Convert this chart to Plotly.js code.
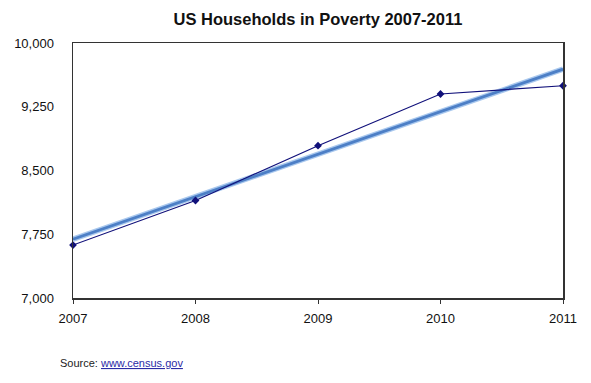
<!DOCTYPE html>
<html><head><meta charset="utf-8">
<script src="https://cdn.plot.ly/plotly-3.0.1.min.js"></script>
<style>html,body{margin:0;padding:0;background:#fff}#c{width:591px;height:383px}</style>
</head><body><div id="c"></div>
<script>
const years = [2007, 2008, 2009, 2010, 2011];
const households = [7623, 8147, 8792, 9400, 9497];
const yTicks = [7000, 7750, 8500, 9250, 10000];
const titleText = 'US Households in Poverty 2007-2011';
const sourceLabel = 'Source: ';
const sourceLink = 'www.census.gov';

// linear least-squares trend from the data
const n = years.length;
const mx = years.reduce((a,b)=>a+b,0)/n;
const my = households.reduce((a,b)=>a+b,0)/n;
let sxy = 0, sxx = 0;
for (let i=0;i<n;i++){ sxy += (years[i]-mx)*(households[i]-my); sxx += (years[i]-mx)**2; }
const slope = sxy/sxx, icpt = my - slope*mx;
const trendX = [years[0], years[n-1]];
const trendY = trendX.map(x => icpt + slope*x);

const font = 'Liberation Sans, Arial, Helvetica, sans-serif';
const traces = [
  {x: trendX, y: trendY, mode:'lines', line:{color:'#a9c8ee', width:5.5}, hoverinfo:'skip', cliponaxis:false},
  {x: trendX, y: trendY, mode:'lines', line:{color:'#4d7fc6', width:2.8}, hoverinfo:'skip', cliponaxis:false},
  {x: years, y: households, mode:'lines+markers', line:{color:'#10107a', width:1.2},
   marker:{symbol:'diamond', size:6, color:'#10107a'}, cliponaxis:false}
];
const layout = {
  width:591, height:383, showlegend:false,
  paper_bgcolor:'#fff', plot_bgcolor:'#fff',
  margin:{l:73, r:28, t:43, b:85},
  font:{family:font, size:13, color:'#111'},
  title:{text:'<b>'+titleText+'</b>', font:{family:font, size:16.5, color:'#111'},
         x:0.538, xanchor:'center', y:0.95, yanchor:'middle'},
  xaxis:{range:[2007,2011], tickvals:years, ticktext:years.map(String),
         showline:true, mirror:true, linecolor:'#333', linewidth:1.5,
         showgrid:false, zeroline:false, ticks:'outside', ticklen:4, tickcolor:'#333', tickwidth:1,
         ticklabelstandoff:4, tickfont:{size:13}},
  yaxis:{range:[7000,10000], tickvals:yTicks, tickformat:',',
         showline:true, mirror:true, linecolor:'#333', linewidth:1.5,
         showgrid:false, zeroline:false, ticks:'', ticklabelstandoff:15, tickfont:{size:13}},
  annotations:[{xref:'paper', yref:'paper', x:-0.03, y:-0.255, xanchor:'left', yanchor:'middle',
    showarrow:false, font:{size:11, color:'#222'},
    text: sourceLabel + '<a href="http://www.census.gov"><span style="color:#2b2ba6;text-decoration:underline">'+sourceLink+'</span></a>'}]
};
Plotly.newPlot('c', traces, layout, {displayModeBar:false, staticPlot:true});
</script></body></html>
